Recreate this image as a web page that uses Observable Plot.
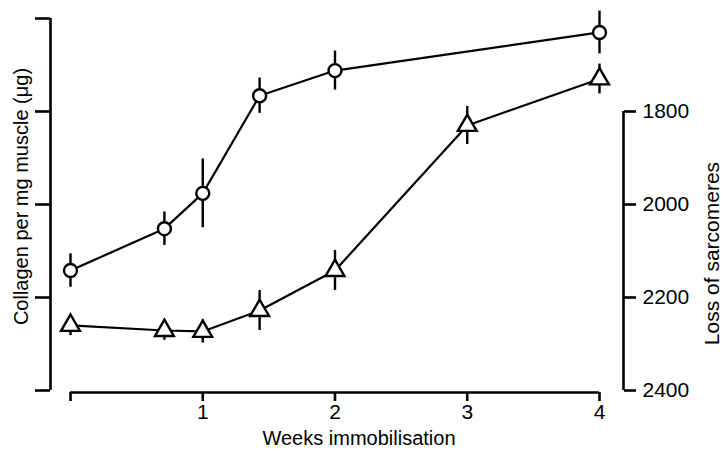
<!DOCTYPE html>
<html><head><meta charset="utf-8">
<script src="https://cdn.jsdelivr.net/npm/d3@7"></script>
<script src="https://cdn.jsdelivr.net/npm/@observablehq/plot@0.6"></script>
<style>body{margin:0;background:#fff} svg{display:block}</style>
</head><body><div id="chart"></div>
<script>
// Collagen (left axis, unlabelled in the source; values in left-tick units)
const collagenWeeks = [0, 0.71, 1, 1.43, 2, 4];
const collagenMean  = [1.29, 1.74, 2.12, 3.17, 3.44, 3.85];
const collagenErr   = [0.18, 0.18, 0.37, 0.19, 0.21, 0.23];
// Loss of sarcomeres (right axis)
const sarcoWeeks = [0, 0.71, 1, 1.43, 2, 3, 4];
const sarcoMean  = [2260, 2271, 2273, 2228, 2142, 1830, 1730];
const sarcoErr   = [22, 21, 25, 43, 43, 41, 32];
// Axes
const weekTicks  = [0, 1, 2, 3, 4];
const leftTicks  = [0, 1, 2, 3, 4];
const rightTicks = [1800, 2000, 2200, 2400];
const xTitle = "Weeks immobilisation";
const leftTitle = "Collagen per mg muscle (\u03bcg)";
const rightTitle = "Loss of sarcomeres";

// map sarcomere values onto the shared vertical grid (2400 at bottom, 200 per tick)
const toGrid = s => (2400 - s) / 200;

const collagen = collagenWeeks.map((w, i) => ({week: w, m: collagenMean[i], e: collagenErr[i]}));
const sarco = sarcoWeeks.map((w, i) => ({week: w, m: toGrid(sarcoMean[i]), e: sarcoErr[i] / 200}));

const sw = 2.4;
const chart = Plot.plot({
  width: 725,
  height: 454,
  marginLeft: 50,
  marginRight: 102,
  marginTop: 18,
  marginBottom: 62,
  style: {fontFamily: "'Liberation Sans', Arial, Helvetica, sans-serif", fontSize: "20px", color: "black", background: "white"},
  x: {domain: [0, 4], range: [70, 599]},
  y: {domain: [0, 4], range: [390, 18]},
  marks: [
    // left axis
    Plot.ruleX([0], {y1: 0, y2: 4, dx: -20, strokeWidth: 2.6}),
    Plot.axisY(leftTicks, {anchor: "left", label: null, tickSize: 15, tickFormat: () => "", strokeWidth: 2.6}),
    // right axis
    Plot.ruleX([4], {y1: 0, y2: 3, dx: 24, strokeWidth: 2.6}),
    Plot.axisY(rightTicks.map(toGrid), {anchor: "right", label: null, tickSize: 12, tickPadding: 7, strokeWidth: 2.6,
      fontSize: 21, tickFormat: u => String(2400 - 200 * u)}),
    // x axis
    Plot.ruleY([0], {x1: 0, x2: 4, dy: 2, strokeWidth: 2.6}),
    Plot.axisX(weekTicks, {anchor: "bottom", label: null, tickSize: 9, tickPadding: 3, strokeWidth: 2.6,
      fontSize: 21, tickFormat: d => d === 0 ? "" : String(d)}),
    // titles
    Plot.text([xTitle], {text: d => d, frameAnchor: "bottom", textAnchor: "middle", dx: 22, dy: 46, lineAnchor: "middle"}),
    Plot.text([leftTitle], {text: d => d, frameAnchor: "left", textAnchor: "middle", dx: -29, dy: -9, rotate: -90, lineAnchor: "middle"}),
    Plot.text([rightTitle], {text: d => d, frameAnchor: "right", textAnchor: "middle", dx: 89, dy: 48, rotate: -90, lineAnchor: "middle", fontSize: 21}),
    // collagen series
    Plot.ruleX(collagen, {x: "week", y1: d => d.m - d.e, y2: d => d.m + d.e, strokeWidth: sw}),
    Plot.line(collagen, {x: "week", y: "m", strokeWidth: 2.2}),
    Plot.dot(collagen, {x: "week", y: "m", r: 6.5, symbol: "circle", fill: "white", stroke: "black", strokeWidth: sw}),
    // sarcomere series
    Plot.ruleX(sarco, {x: "week", y1: d => d.m - d.e, y2: d => d.m + d.e, strokeWidth: sw}),
    Plot.line(sarco, {x: "week", y: "m", strokeWidth: 2.2}),
    Plot.dot(sarco, {x: "week", y: "m", r: 7, symbol: "triangle", fill: "white", stroke: "black", strokeWidth: sw})
  ]
});
document.getElementById("chart").appendChild(chart);
</script>
</body></html>
